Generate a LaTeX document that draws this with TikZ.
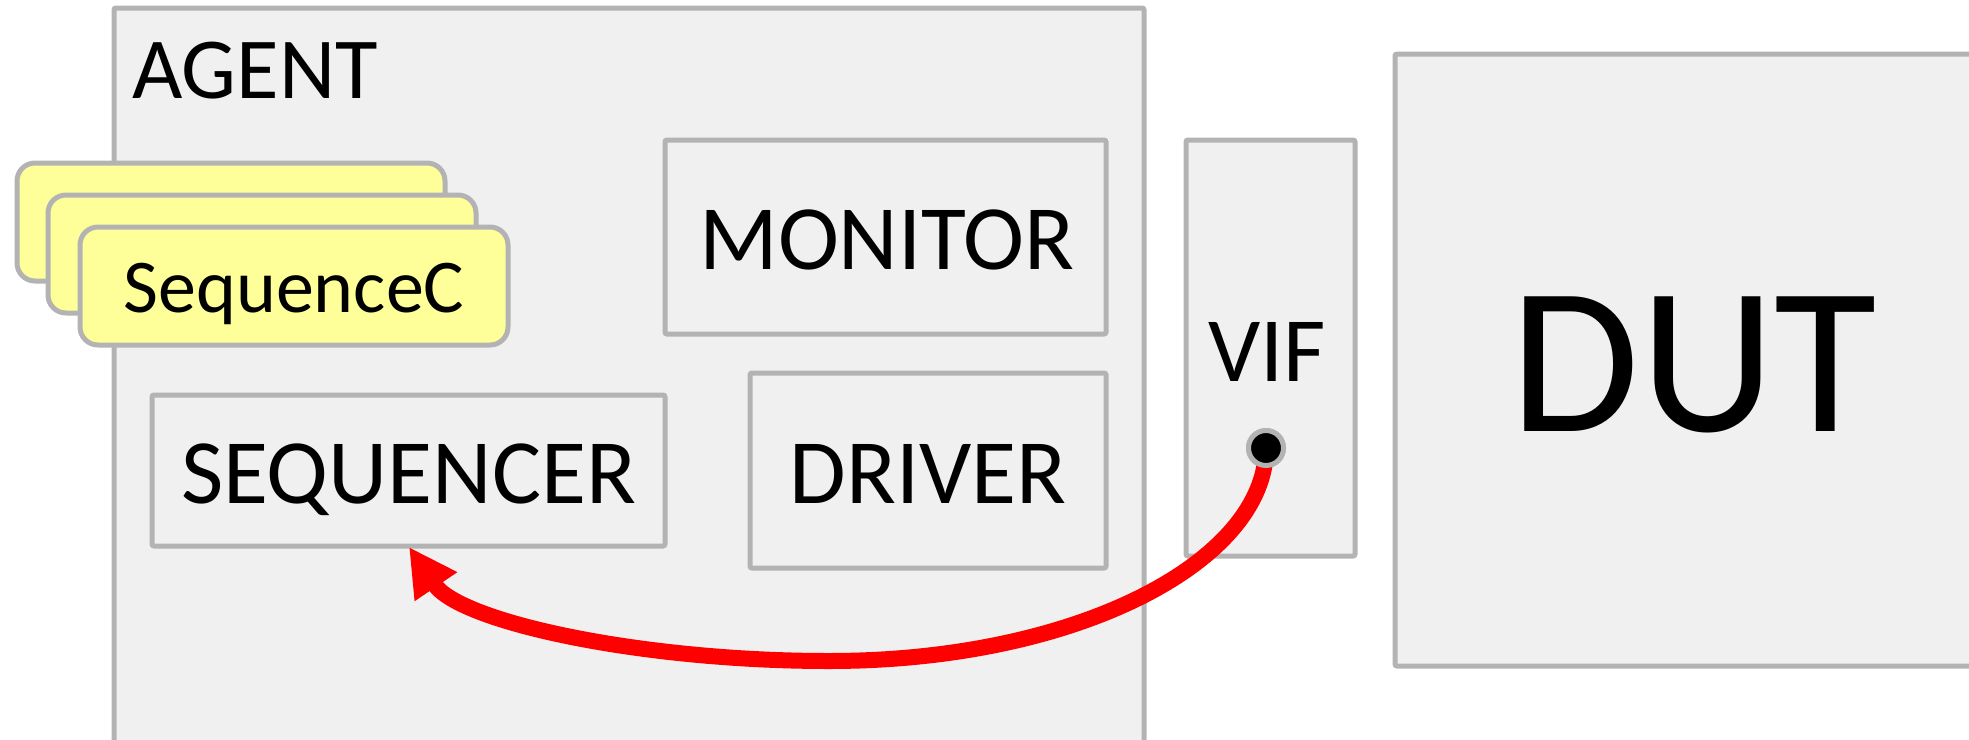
\documentclass[tikz,border=0pt]{standalone}
\usepackage{fontspec}
\setmainfont{Carlito}
\usetikzlibrary{arrows.meta}
\definecolor{frame}{RGB}{179,179,179}
\definecolor{panel}{RGB}{240,240,240}
\definecolor{seqyellow}{RGB}{255,255,153}
\newcommand{\fs}[1]{\fontsize{#1}{#1}\selectfont}
\begin{document}
\begin{tikzpicture}[x=1pt,y=-1pt,
  block/.style={draw=frame, fill=panel, line width=5pt, rounded corners=2pt,
    inner sep=0pt, outer sep=0pt, anchor=north west},
  seqcard/.style={draw=frame, fill=seqyellow, line width=5pt, rounded corners=18pt,
    inner sep=0pt, outer sep=0pt, anchor=north west,
    minimum width=428pt, minimum height=118pt},
  lbl/.style={anchor=base, inner sep=0pt, font=\fs{92}},
  wire/.style={draw=red, line width=16pt,
    -{Triangle[length=48pt, width=48pt]}},
  port/.style={circle, draw=frame, fill=black, line width=5pt,
    minimum size=35pt, inner sep=0pt}]

\clip (0,0) rectangle (1969,739);
\fill[white] (0,0) rectangle (1969,739);

% agent frame
\node[block, minimum width=1030pt, minimum height=800pt] (agent) at (114,8) {};
\node[anchor=base west, inner sep=0pt, font=\fs{87}] (agentlbl) at (132,98) {AGENT};

% stacked sequence cards
\node[seqcard] (seqa) at (17,163) {};
\node[seqcard] (seqb) at (48,195) {};
\node[seqcard] (seqc) at (80,227) {};
\node[anchor=base, inner sep=0pt, font=\fs{76}] (seqclbl) at (294,312) {SequenceC};

% agent components
\node[block, minimum width=441pt, minimum height=194pt] (monitor) at (665,140) {};
\node[block, minimum width=513pt, minimum height=151pt] (seqr) at (152,395) {};
\node[block, minimum width=356pt, minimum height=195pt] (driver) at (750,373) {};

% interface and design under test
\node[block, minimum width=169pt, minimum height=416pt] (vif) at (1186,140) {};
\node[block, minimum width=620pt, minimum height=612pt] (dut) at (1395,54) {};

\node[lbl] (monlbl) at (887,269) {MONITOR};
\node[lbl] (seqrlbl) at (408.5,503) {SEQUENCER};
\node[lbl] (drvlbl) at (928,503) {DRIVER};
\node[lbl] (viflbl) at (1267,381) {VIF};
\node[anchor=base, inner sep=0pt, font=\fs{210}] (dutlbl) at (1694,431) {DUT};

% handle passed from the interface back to the sequencer
\node[port] (vport) at (1266,448) {};
\coordinate (seqin) at (409,547);
\draw[wire] (vport.center) .. controls (1266,560) and (1080,661) .. (829,661)
  .. controls (640,661) and (460,622) .. (seqin);
\node[port] at (vport) {};

\end{tikzpicture}
\end{document}
